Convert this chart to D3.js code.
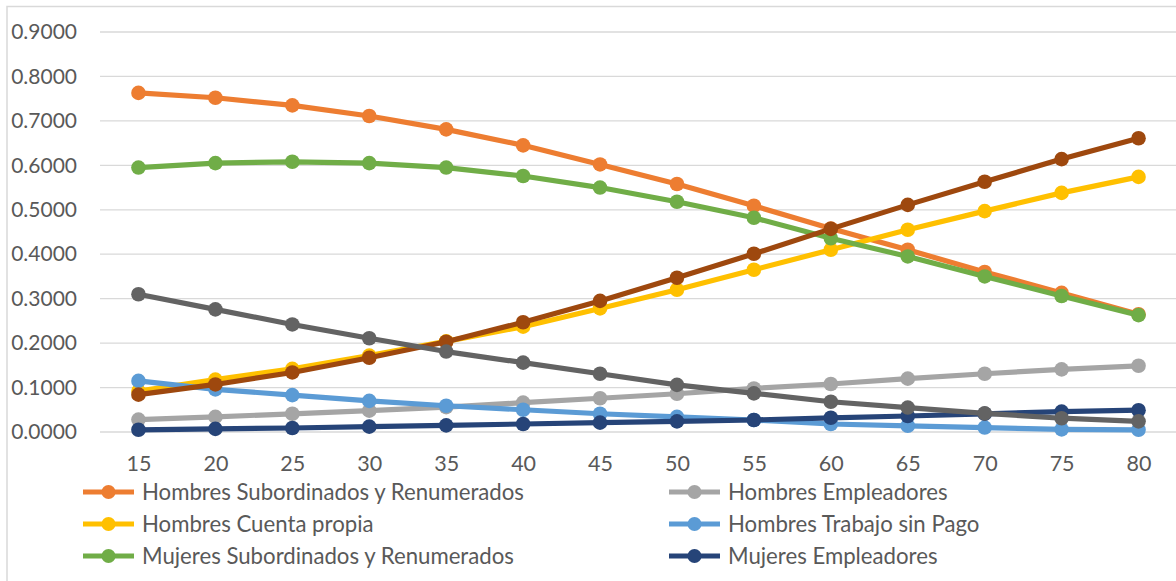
<!DOCTYPE html>
<html>
<head>
<meta charset="utf-8">
<script src="https://cdn.jsdelivr.net/npm/d3@7"></script>
<style>
  html, body { margin: 0; padding: 0; background: #ffffff; }
  svg { display: block; }
  text { font-family: Lato, "Liberation Sans", sans-serif; fill: #595959; }
</style>
</head>
<body>
<svg id="chart" width="1176" height="581"></svg>
<script>
// Age groups on the category axis
const ages = [15, 20, 25, 30, 35, 40, 45, 50, 55, 60, 65, 70, 75, 80];

// Share of workers in each occupational position, by age
const hombresSubordinados = [0.763, 0.752, 0.735, 0.711, 0.681, 0.645, 0.602, 0.558, 0.509, 0.458, 0.410, 0.360, 0.313, 0.265];
const hombresCuentaPropia = [0.092, 0.118, 0.142, 0.172, 0.204, 0.237, 0.278, 0.320, 0.365, 0.410, 0.455, 0.497, 0.538, 0.574];
const mujeresSubordinadas = [0.595, 0.605, 0.608, 0.605, 0.595, 0.576, 0.550, 0.518, 0.482, 0.436, 0.395, 0.350, 0.306, 0.263];
const hombresEmpleadores  = [0.028, 0.034, 0.041, 0.048, 0.056, 0.066, 0.076, 0.086, 0.098, 0.108, 0.120, 0.131, 0.141, 0.149];
const hombresSinPago      = [0.115, 0.096, 0.083, 0.070, 0.059, 0.050, 0.041, 0.034, 0.027, 0.018, 0.014, 0.010, 0.006, 0.005];
const mujeresEmpleadoras  = [0.005, 0.007, 0.009, 0.012, 0.015, 0.018, 0.021, 0.024, 0.027, 0.032, 0.036, 0.041, 0.046, 0.049];
const mujeresCuentaPropia = [0.084, 0.107, 0.134, 0.167, 0.203, 0.247, 0.295, 0.347, 0.401, 0.457, 0.511, 0.563, 0.614, 0.661];
const mujeresSinPago      = [0.310, 0.276, 0.242, 0.211, 0.181, 0.156, 0.131, 0.106, 0.087, 0.068, 0.055, 0.042, 0.031, 0.024];

// Value-axis ticks
const yTicks = [0, 0.1, 0.2, 0.3, 0.4, 0.5, 0.6, 0.7, 0.8, 0.9];

// Series in drawing order (later ones sit on top)
const series = [
  { name: "Hombres Subordinados y Renumerados", values: hombresSubordinados, color: "#ED7D31" },
  { name: "Hombres Cuenta propia",              values: hombresCuentaPropia, color: "#FFC000" },
  { name: "Mujeres Subordinados y Renumerados", values: mujeresSubordinadas, color: "#70AD47" },
  { name: "Hombres Empleadores",                values: hombresEmpleadores,  color: "#A5A5A5" },
  { name: "Hombres Trabajo sin Pago",           values: hombresSinPago,      color: "#5B9BD5" },
  { name: "Mujeres Empleadores",                values: mujeresEmpleadoras,  color: "#264478" },
  { name: "Mujeres Cuenta propia",              values: mujeresCuentaPropia, color: "#9E480E" },
  { name: "Mujeres Trabajo sin Pago",           values: mujeresSinPago,      color: "#636363" }
];

// Legend layout: two columns, filled row by row
const legendOrder = [0, 3, 1, 4, 2, 5];

const svg = d3.select("#chart");

// Chart-area frame (left and top edges)
svg.append("path")
  .attr("d", "M7,581 V6.5 H1176")
  .attr("fill", "none")
  .attr("stroke", "#D9D9D9")
  .attr("stroke-width", 1.5);

const x = d3.scalePoint()
  .domain(ages)
  .range([100, 1177])
  .padding(0.5);

const y = d3.scaleLinear()
  .domain([0, 0.9])
  .range([432, 32]);

// Horizontal gridlines
svg.append("g")
  .selectAll("line")
  .data(yTicks)
  .join("line")
  .attr("x1", 100)
  .attr("x2", 1177)
  .attr("y1", d => y(d))
  .attr("y2", d => y(d))
  .attr("stroke", "#D9D9D9")
  .attr("stroke-width", 1.3);

// Value-axis labels
const yAxis = d3.axisLeft(y)
  .tickValues(yTicks)
  .tickFormat(d3.format(".4f"))
  .tickSize(0)
  .tickPadding(0);

svg.append("g")
  .attr("transform", "translate(77,0)")
  .call(yAxis)
  .call(g => g.select(".domain").remove())
  .selectAll("text")
  .attr("font-size", 21)
  .attr("fill", "#595959")
  .style("font-family", "Lato, 'Liberation Sans', sans-serif");

// Category-axis labels
const xAxis = d3.axisBottom(x).tickSize(0).tickPadding(0);
svg.append("g")
  .attr("transform", "translate(0,463)")
  .call(xAxis)
  .call(g => g.select(".domain").remove())
  .selectAll("text")
  .attr("font-size", 21.5)
  .attr("dy", "0.35em")
  .attr("fill", "#595959")
  .style("font-family", "Lato, 'Liberation Sans', sans-serif");

// Lines and markers
const line = d3.line()
  .x((d, i) => x(ages[i]))
  .y(d => y(d));

const plot = svg.append("g");
series.forEach(s => {
  const g = plot.append("g");
  g.append("path")
    .attr("d", line(s.values))
    .attr("fill", "none")
    .attr("stroke", s.color)
    .attr("stroke-width", 5.2)
    .attr("stroke-linejoin", "round");
  g.selectAll("circle")
    .data(s.values)
    .join("circle")
    .attr("cx", (d, i) => x(ages[i]))
    .attr("cy", d => y(d))
    .attr("r", 7.3)
    .attr("fill", s.color);
});

// Legend
const legendCols = [83, 669];
const legendRows = [492, 524, 556];
const legend = svg.append("g");
legendOrder.forEach((si, k) => {
  const s = series[si];
  const lx = legendCols[k % 2];
  const ly = legendRows[Math.floor(k / 2)];
  const item = legend.append("g").attr("transform", `translate(${lx},${ly})`);
  item.append("line")
    .attr("x1", 0).attr("x2", 51)
    .attr("y1", 0).attr("y2", 0)
    .attr("stroke", s.color)
    .attr("stroke-width", 5);
  item.append("circle")
    .attr("cx", 25.5).attr("cy", 0).attr("r", 7)
    .attr("fill", s.color);
  item.append("text")
    .attr("x", 59)
    .attr("y", 0)
    .attr("dy", "0.35em")
    .attr("font-size", 22.2)
    .text(s.name);
});
</script>
</body>
</html>
